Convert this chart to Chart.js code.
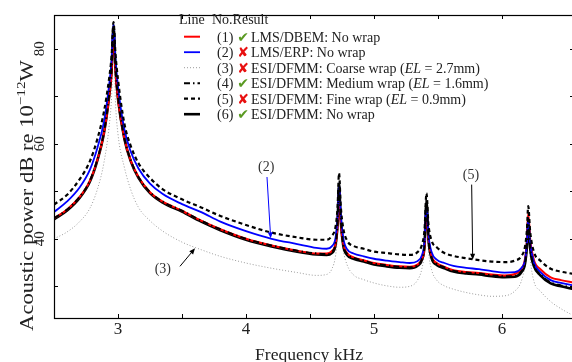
<!DOCTYPE html>
<html>
<head>
<meta charset="utf-8">
<script src="https://cdn.jsdelivr.net/npm/chart.js@4.4.1/dist/chart.umd.min.js"></script>
<style>
  html, body { margin: 0; padding: 0; background: #fff; overflow: hidden; }
  #wrap { position: absolute; left: 0; top: 0; width: 576px; height: 362px; }
</style>
</head>
<body>
<div id="wrap"><canvas id="grafica" width="576" height="362"></canvas></div>
<script>
// frequency samples (kHz), denser around the resonances
var freqKHz = [
  2.50, 2.60, 2.70, 2.78, 2.84, 2.89, 2.93, 2.95, 2.965, 2.98,
  3.00, 3.05, 3.10, 3.16, 3.25, 3.35, 3.50, 3.65, 3.80, 4.00,
  4.20, 4.40, 4.55, 4.63, 4.67, 4.70, 4.715, 4.727, 4.74, 4.76,
  4.79, 4.84, 4.92, 5.00, 5.10, 5.20, 5.28, 5.34, 5.375, 5.395,
  5.41, 5.425, 5.45, 5.49, 5.55, 5.62, 5.72, 5.82, 5.92, 6.02,
  6.10, 6.15, 6.18, 6.195, 6.205, 6.22, 6.25, 6.30, 6.38, 6.46, 6.56
];

// (1) LMS/DBEM
var lmsDbem = [
  44.3, 46.1, 48.8, 52.2, 56.7, 62.2, 69.6, 75.0, 84.0, 75.5,
  69.3, 61.1, 56.4, 53.0, 49.8, 47.8, 45.9, 43.8, 42.0, 40.0,
  38.6, 37.5, 36.9, 36.9, 37.4, 39.0, 42.8, 50.7, 43.6, 39.0,
  37.0, 36.1, 35.5, 34.9, 34.5, 34.2, 34.1, 34.6, 35.8, 38.4,
  46.9, 40.2, 36.3, 34.9, 34.1, 33.4, 33.0, 32.8, 32.5, 32.3,
  32.6, 33.6, 35.8, 39.8, 45.5, 40.0, 35.5, 33.6, 31.9, 31.3, 30.8
];
// (2) LMS/ERP
var lmsErp = [
  45.6, 47.8, 50.8, 54.5, 59.2, 64.6, 72.2, 77.5, 85.2, 78.0,
  72.0, 63.0, 58.3, 54.8, 51.6, 49.4, 47.3, 45.6, 43.6, 41.6,
  40.0, 38.9, 38.1, 37.9, 38.4, 40.3, 44.5, 51.7, 45.5, 40.2,
  37.8, 36.9, 36.3, 35.8, 35.4, 35.1, 34.9, 35.3, 36.6, 39.5,
  47.6, 41.0, 37.2, 35.6, 34.9, 34.3, 33.9, 33.6, 33.2, 32.9,
  33.0, 33.8, 35.6, 39.4, 44.4, 39.2, 35.0, 33.0, 31.3, 30.7, 30.2
];
// (3) ESI/DFMM coarse wrap
var dfmmCoarse = [
  40.0, 41.4, 43.6, 46.4, 50.5, 56.0, 63.5, 70.0, 82.0, 69.0,
  62.0, 55.0, 50.3, 46.6, 43.8, 41.6, 39.3, 37.7, 36.3, 34.9,
  33.8, 32.9, 32.3, 32.5, 33.6, 36.5, 40.5, 47.0, 41.5, 37.5,
  34.5, 32.4, 31.4, 30.7, 30.1, 29.8, 30.0, 31.3, 33.8, 37.5,
  44.0, 37.5, 33.5, 31.3, 30.1, 29.4, 28.7, 28.2, 27.9, 28.0,
  29.0, 31.0, 34.5, 38.0, 42.0, 36.0, 31.0, 29.0, 26.8, 25.3, 23.8
];
// (4) ESI/DFMM medium wrap
var dfmmMedium = [
  44.3, 46.1, 48.8, 52.2, 56.8, 62.4, 70.0, 75.6, 84.9, 76.2,
  69.7, 61.2, 56.5, 53.0, 49.8, 47.8, 45.9, 43.8, 42.0, 40.0,
  38.6, 37.5, 36.9, 36.8, 37.2, 39.0, 43.2, 51.6, 44.2, 38.8,
  36.8, 36.0, 35.4, 34.8, 34.4, 34.1, 34.0, 34.5, 35.8, 38.8,
  48.2, 40.2, 36.1, 34.7, 34.0, 33.3, 32.9, 32.7, 32.3, 32.1,
  32.2, 33.1, 35.0, 38.7, 44.2, 38.2, 34.4, 32.5, 30.8, 30.2, 29.7
];
// (5) ESI/DFMM fine wrap
var dfmmFine = [
  47.2, 49.2, 52.5, 56.3, 61.1, 66.7, 73.6, 78.5, 85.6, 79.0,
  73.5, 64.2, 59.5, 55.9, 52.8, 50.4, 48.3, 46.6, 44.8, 42.9,
  41.3, 40.3, 39.8, 39.8, 40.6, 42.6, 46.5, 53.8, 47.0, 42.2,
  39.6, 38.5, 37.9, 37.3, 37.0, 36.7, 36.6, 37.2, 38.8, 42.0,
  49.6, 43.2, 39.6, 38.2, 37.0, 36.4, 35.9, 35.5, 35.2, 35.1,
  35.4, 36.3, 38.4, 42.0, 46.9, 41.5, 37.2, 35.4, 33.7, 33.1, 32.6
];
// (6) ESI/DFMM no wrap
var dfmmNoWrap = [
  44.1, 45.9, 48.6, 52.0, 56.6, 62.2, 69.8, 75.5, 84.8, 76.0,
  69.5, 61.0, 56.3, 52.8, 49.6, 47.6, 45.7, 43.6, 41.8, 39.8,
  38.4, 37.3, 36.7, 36.6, 37.0, 38.8, 43.0, 51.4, 44.0, 38.6,
  36.6, 35.8, 35.2, 34.6, 34.2, 33.9, 33.8, 34.3, 35.6, 38.6,
  47.8, 40.0, 35.9, 34.5, 33.8, 33.1, 32.7, 32.5, 32.1, 31.9,
  32.0, 32.9, 34.8, 38.5, 43.8, 38.0, 34.2, 32.3, 30.6, 30.0, 29.4
];

var xTicks = [3, 3.5, 4, 4.5, 5, 5.5, 6];
var xTickLabels = ['3', '', '4', '', '5', '', '6'];
var yTicks = [30, 40, 50, 60, 70, 80];
var yTickLabels = ['', '40', '', '60', '', '80'];

// legend rows
var legendNums = ['(1)', '(2)', '(3)', '(4)', '(5)', '(6)'];
var legendOk = [true, false, false, true, false, true];
var legendText = [
  [['LMS/DBEM: No wrap', false]],
  [['LMS/ERP: No wrap', false]],
  [['ESI/DFMM: Coarse wrap (', false], ['EL', true], [' = 2.7mm)', false]],
  [['ESI/DFMM: Medium wrap (', false], ['EL', true], [' = 1.6mm)', false]],
  [['ESI/DFMM: Fine wrap (', false], ['EL', true], [' = 0.9mm)', false]],
  [['ESI/DFMM: No wrap', false]]
];

// callouts: label, label position, arrow tail, arrow head (kHz, dB)
var noteLabels = ['(2)', '(3)', '(5)'];
var noteAt = [[4.158, 55.1], [3.35, 33.6], [5.758, 53.4]];
var noteFrom = [[4.164, 53.0], [3.484, 34.2], [5.763, 51.4]];
var noteTo = [[4.193, 40.1], [3.602, 38.0], [5.771, 35.6]];
var noteColors = ['#0000ff', '#000000', '#000000'];

var SERIF = '"Liberation Serif", "Times New Roman", serif';

function serie(valores) {
  return freqKHz.map(function (f, i) { return { x: f, y: valores[i] }; });
}

var estilos = [
  { data: lmsDbem, color: '#ff0000', width: 2, dash: [], order: 3 },
  { data: lmsErp, color: '#0000ff', width: 1.8, dash: [], order: 2 },
  { data: dfmmCoarse, color: '#9a9a9a', width: 1, dash: [1, 2], order: 5 },
  { data: dfmmMedium, color: '#000000', width: 2, dash: [6, 3, 1.5, 3], order: 0 },
  { data: dfmmFine, color: '#000000', width: 2.2, dash: [4, 3], order: 1 },
  { data: dfmmNoWrap, color: '#000000', width: 2.6, dash: [], order: 4 }
];

var datasets = estilos.map(function (e, i) {
  return {
    label: legendNums[i],
    data: serie(e.data),
    borderColor: e.color,
    borderWidth: e.width,
    borderDash: e.dash,
    order: e.order,
    pointRadius: 0,
    fill: false,
    cubicInterpolationMode: 'monotone'
  };
});

function flecha(ctx, x0, y0, x1, y1, color) {
  var ang = Math.atan2(y1 - y0, x1 - x0);
  ctx.strokeStyle = color;
  ctx.fillStyle = color;
  ctx.lineWidth = 1;
  ctx.beginPath();
  ctx.moveTo(x0, y0);
  ctx.lineTo(x1 - 4 * Math.cos(ang), y1 - 4 * Math.sin(ang));
  ctx.stroke();
  ctx.beginPath();
  ctx.moveTo(x1, y1);
  ctx.lineTo(x1 - 6 * Math.cos(ang) + 2.5 * Math.sin(ang), y1 - 6 * Math.sin(ang) - 2.5 * Math.cos(ang));
  ctx.lineTo(x1 - 6 * Math.cos(ang) - 2.5 * Math.sin(ang), y1 - 6 * Math.sin(ang) + 2.5 * Math.cos(ang));
  ctx.closePath();
  ctx.fill();
}

var marco = {
  id: 'marco',
  afterDraw: function (chart) {
    var ctx = chart.ctx;
    var a = chart.chartArea;
    var sx = chart.scales.x;
    var sy = chart.scales.y;
    ctx.save();

    // box with inward ticks
    ctx.strokeStyle = '#000';
    ctx.lineWidth = 1.2;
    ctx.strokeRect(a.left + 0.5, a.top + 0.5, a.right - a.left, a.bottom - a.top);
    ctx.lineWidth = 1;
    ctx.beginPath();
    sx.ticks.forEach(function (t) {
      var px = Math.round(sx.getPixelForValue(t.value)) + 0.5;
      ctx.moveTo(px, a.bottom); ctx.lineTo(px, a.bottom - 4);
      ctx.moveTo(px, a.top); ctx.lineTo(px, a.top + 4);
    });
    sy.ticks.forEach(function (t) {
      var py = Math.round(sy.getPixelForValue(t.value)) + 0.5;
      ctx.moveTo(a.left, py); ctx.lineTo(a.left + 4, py);
      ctx.moveTo(a.right, py); ctx.lineTo(a.right - 4, py);
    });
    ctx.stroke();

    // axis titles
    ctx.fillStyle = '#222';
    ctx.textAlign = 'center';
    ctx.textBaseline = 'alphabetic';
    ctx.font = '17.6px ' + SERIF;
    ctx.fillText('Frequency kHz', 309, 360);

    ctx.save();
    ctx.translate(32.5, 195.5);
    ctx.rotate(-Math.PI / 2);
    ctx.scale(1.22, 1);
    ctx.textAlign = 'left';
    var partes = [['Acoustic power dB re 10', 18.5, 0], ['\u221212', 12.5, -7.5], ['W', 18.5, 0]];
    var total = 0;
    partes.forEach(function (p) { ctx.font = p[1] + 'px ' + SERIF; total += ctx.measureText(p[0]).width; });
    var cx = -total / 2;
    partes.forEach(function (p) {
      ctx.font = p[1] + 'px ' + SERIF;
      ctx.fillText(p[0], cx, p[2]);
      cx += ctx.measureText(p[0]).width;
    });
    ctx.restore();

    // legend
    ctx.textAlign = 'left';
    ctx.font = '14px ' + SERIF;
    ctx.fillStyle = '#222';
    ctx.fillText('Line', 179, 24);
    ctx.fillText('No.Result', 212, 24);
    for (var i = 0; i < legendNums.length; i++) {
      var yc = 36.7 + 15.5 * i;
      var e = estilos[i];
      ctx.strokeStyle = e.color;
      ctx.lineWidth = e.width;
      ctx.setLineDash(e.dash);
      ctx.beginPath();
      ctx.moveTo(184, yc); ctx.lineTo(200, yc);
      ctx.stroke();
      ctx.setLineDash([]);

      var tx = 217;
      var base = yc + 5;
      ctx.font = '14px ' + SERIF;
      ctx.fillStyle = '#222';
      ctx.fillText(legendNums[i], tx, base);
      tx += ctx.measureText(legendNums[i]).width + 4;
      ctx.font = 'bold 14px "DejaVu Sans"';
      ctx.fillStyle = legendOk[i] ? '#5a9a22' : '#e81010';
      var marca = legendOk[i] ? '\u2714' : '\u2718';
      ctx.fillText(marca, tx, base);
      tx += ctx.measureText(marca).width + 2;
      legendText[i].forEach(function (seg) {
        ctx.font = (seg[1] ? 'italic ' : '') + '14px ' + SERIF;
        ctx.fillStyle = '#222';
        ctx.fillText(seg[0], tx, base);
        tx += ctx.measureText(seg[0]).width;
      });
    }

    // callouts
    ctx.font = '14px ' + SERIF;
    ctx.textAlign = 'center';
    ctx.textBaseline = 'middle';
    for (var k = 0; k < noteLabels.length; k++) {
      ctx.fillStyle = '#333';
      ctx.fillText(noteLabels[k], sx.getPixelForValue(noteAt[k][0]), sy.getPixelForValue(noteAt[k][1]));
      flecha(ctx,
        sx.getPixelForValue(noteFrom[k][0]), sy.getPixelForValue(noteFrom[k][1]),
        sx.getPixelForValue(noteTo[k][0]), sy.getPixelForValue(noteTo[k][1]),
        noteColors[k]);
    }
    ctx.restore();
  }
};

var ctx = document.getElementById('grafica').getContext('2d');
var myChart = new Chart(ctx, {
  type: 'line',
  data: { datasets: datasets },
  options: {
    responsive: false,
    animation: false,
    devicePixelRatio: 1,
    layout: { padding: { left: 0, right: 2, top: 12, bottom: 0 } },
    plugins: { legend: { display: false }, tooltip: { enabled: false } },
    scales: {
      x: {
        type: 'linear',
        min: 2.5,
        max: 2.5 + 520 / 128,
        afterBuildTicks: function (scale) { scale.ticks = xTicks.map(function (v) { return { value: v }; }); },
        afterFit: function (scale) { scale.height = 44; },
        grid: { display: false, drawTicks: false },
        border: { display: false },
        ticks: {
          padding: 1,
          maxRotation: 0,
          color: '#222',
          font: { family: SERIF, size: 17 },
          callback: function (v, i) { return xTickLabels[i]; }
        }
      },
      y: {
        type: 'linear',
        min: 30 - 32 / 4.8,
        max: 80 + 34 / 4.8,
        afterBuildTicks: function (scale) { scale.ticks = yTicks.map(function (v) { return { value: v }; }); },
        afterFit: function (scale) { scale.width = 54; },
        grid: { display: false, drawTicks: false },
        border: { display: false },
        ticks: {
          padding: 6,
          minRotation: 90,
          maxRotation: 90,
          crossAlign: 'center',
          color: '#222',
          font: { family: SERIF, size: 15 },
          callback: function (v, i) { return yTickLabels[i]; }
        }
      }
    }
  },
  plugins: [marco]
});
</script>
</body>
</html>
